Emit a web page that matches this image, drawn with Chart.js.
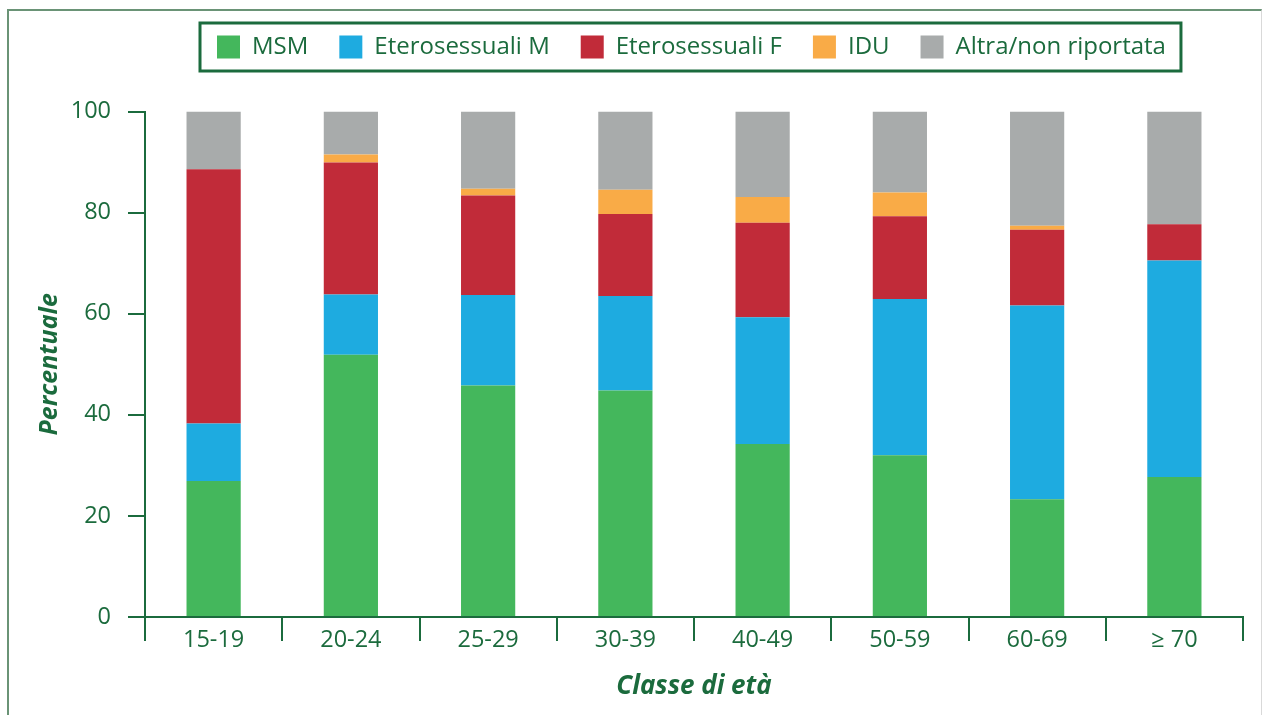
<!DOCTYPE html>
<html>
<head>
<meta charset="utf-8">
<script src="https://cdn.jsdelivr.net/npm/chart.js@4"></script>
<style>
  html, body { margin: 0; padding: 0; background: #fff; overflow: hidden; }
  #wrap { position: relative; width: 1263px; height: 715px; }
  #frame {
    position: absolute; left: 7px; top: 9px; width: 1252px; height: 800px;
    border-left: 2px solid #6a9376; border-top: 2px solid #6a9376;
    border-right: 1px solid #d9d9d9; pointer-events: none;
  }
</style>
</head>
<body>
<div id="wrap">
  <canvas id="chart" width="1263" height="715"></canvas>
  <div id="frame"></div>
</div>
<script>
const ageClasses = ["15-19", "20-24", "25-29", "30-39", "40-49", "50-59", "60-69", "≥ 70"];
const msm = [26.9, 51.9, 45.8, 44.8, 34.2, 32.0, 23.3, 27.7];
const eteroM = [11.4, 11.9, 17.9, 18.7, 25.1, 30.9, 38.3, 42.8];
const eteroF = [50.3, 26.1, 19.7, 16.2, 18.7, 16.4, 15.0, 7.2];
const idu = [0, 1.6, 1.3, 4.8, 5.1, 4.7, 0.8, 0];
const altra = [11.4, 8.5, 15.3, 15.5, 16.9, 16.0, 22.6, 22.3];
const yTicks = [0, 20, 40, 60, 80, 100];

const green = "#1b6b3d";
const font = "'Open Sans', 'Noto Sans', sans-serif";

// sposta la legenda e disegna la cornice attorno
const legendBox = {
  id: "legendBox",
  beforeInit(chart) {
    const fit = chart.legend.fit;
    chart.legend.fit = function () {
      fit.bind(chart.legend)();
      this.height = 107.5;
    };
  },
  afterUpdate(chart) {
    const lg = chart.legend;
    const boxes = lg.legendHitBoxes;
    if (!boxes.length) return;
    const dx = 217 - boxes[0].left;
    lg.left += dx;
    lg.right += dx;
    boxes.forEach((b) => (b.left += dx));
  },
  afterDraw(chart) {
    const boxes = chart.legend.legendHitBoxes;
    if (!boxes.length) return;
    const first = boxes[0];
    const last = boxes[boxes.length - 1];
    const ctx = chart.ctx;
    ctx.save();
    ctx.strokeStyle = green;
    ctx.lineWidth = 3;
    ctx.strokeRect(first.left - 17, first.top - 12, last.left + last.width - first.left + 32, 48);
    ctx.restore();
  },
};

const makeSet = (label, data, color) => ({
  label,
  data,
  backgroundColor: color,
  borderWidth: 0,
  categoryPercentage: 1,
  barPercentage: 0.395,
});

new Chart(document.getElementById("chart"), {
  type: "bar",
  data: {
    labels: ageClasses,
    datasets: [
      makeSet("MSM", msm, "#44b75c"),
      makeSet("Eterosessuali M", eteroM, "#1eabe0"),
      makeSet("Eterosessuali F", eteroF, "#c12b39"),
      makeSet("IDU", idu, "#f9ab47"),
      makeSet("Altra/non riportata", altra, "#a8abab"),
    ],
  },
  options: {
    responsive: false,
    animation: false,
    layout: { padding: { top: 4, left: 20, right: 20, bottom: 0 } },
    plugins: {
      tooltip: { enabled: false },
      legend: {
        position: "top",
        labels: {
          boxWidth: 23,
          boxHeight: 23,
          padding: 31,
          color: green,
          font: { family: font, size: 24, weight: "500" },
        },
      },
    },
    scales: {
      x: {
        stacked: true,
        afterFit: (s) => (s.height = 98),
        grid: { display: true, drawOnChartArea: false, tickLength: 24, color: green, lineWidth: 2, offset: true },
        border: { display: true, color: green, width: 2 },
        ticks: { color: green, padding: -15, font: { family: font, size: 23.5, weight: "500" } },
        title: {
          display: true,
          text: "Classe di età",
          color: green,
          padding: { top: 0, bottom: 13 },
          font: { family: font, size: 26, weight: "bold", style: "italic" },
        },
      },
      y: {
        stacked: true,
        min: 0,
        max: 100,
        afterFit: (s) => (s.width = 125),
        afterBuildTicks: (s) => (s.ticks = yTicks.map((v) => ({ value: v }))),
        grid: { display: true, drawOnChartArea: false, tickLength: 17, color: green, lineWidth: 2 },
        border: { display: true, color: green, width: 2 },
        ticks: { color: green, padding: 17, font: { family: font, size: 23.5, weight: "500" } },
        title: {
          display: true,
          text: "Percentuale",
          color: green,
          padding: { top: 15, bottom: 0 },
          font: { family: font, size: 25, weight: "bold", style: "italic" },
        },
      },
    },
  },
  plugins: [legendBox],
});
</script>
</body>
</html>
